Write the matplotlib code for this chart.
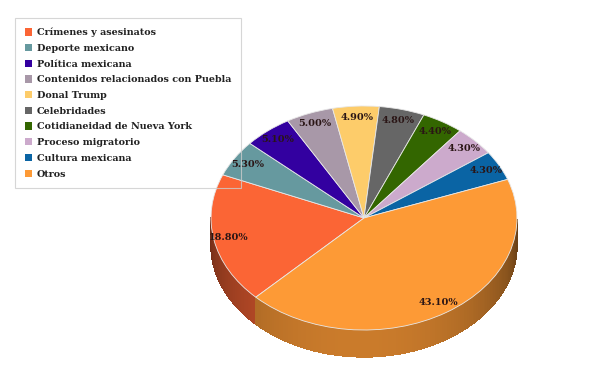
import numpy as np
import matplotlib.pyplot as plt
import matplotlib.colors as mcolors
from matplotlib.collections import PolyCollection

categories = ['Crímenes y asesinatos', 'Deporte mexicano', 'Política mexicana',
              'Contenidos relacionados con Puebla', 'Donal Trump', 'Celebridades',
              'Cotidianeidad de Nueva York', 'Proceso migratorio', 'Cultura mexicana', 'Otros']
values = [18.8, 5.3, 5.1, 5.0, 4.9, 4.8, 4.4, 4.3, 4.3, 43.1]
colors = ['#fb6535', '#66999f', '#3300a0', '#a898a8', '#fdcc6a', '#666666',
          '#336600', '#ccaacc', '#0a64a4', '#fd9a36']

plt.rcParams['font.family'] = 'DejaVu Serif'

fig = plt.figure(figsize=(6, 3.77), dpi=100)
ax = fig.add_axes([0, 0, 1, 1])

start = 225
depth = 0.24

# side wall of the 3d pie (only the front half is visible)
angles = np.cumsum([0] + values) / sum(values) * 360
polys, fcs = [], []
for i, c in enumerate(colors):
    t1 = start - angles[i + 1]
    t2 = start - angles[i]
    ts = np.mod(np.linspace(t1, t2, 150), 360)
    rgb = np.array(mcolors.to_rgb(c))
    for a, b in zip(ts[:-1], ts[1:]):
        if a < 180 or b < 180 or b < a:
            continue
        m = np.radians((a + b) / 2)
        f = 0.42 + 0.38 * max(0, np.cos(m - np.radians(268)))
        ra, rb = np.radians(a), np.radians(b)
        polys.append([(np.cos(ra), np.sin(ra)), (np.cos(rb), np.sin(rb)),
                      (np.cos(rb), np.sin(rb) - depth), (np.cos(ra), np.sin(ra) - depth)])
        fcs.append(rgb * f)
ax.add_collection(PolyCollection(polys, facecolors=fcs, edgecolors=fcs, linewidths=0.4,
                                 antialiased=False, zorder=0.5))

wedges, texts, autotexts = ax.pie(values, colors=colors, startangle=start,
                                  counterclock=False, autopct='%.2f%%', pctdistance=0.9,
                                  wedgeprops=dict(edgecolor='#e8e8e8', linewidth=0.6),
                                  textprops=dict(fontsize=7, color='#2a1515', weight='bold'))

ax.set_aspect('auto')
ax.set_xlim(-364 / 153, (600 - 364) / 153)
ax.set_ylim(-159 / 112, (377 - 159) / 112)
ax.axis('off')

leg = fig.legend(wedges, categories, loc='upper left', bbox_to_anchor=(0.025, 0.952),
                 prop=dict(size=6.9, weight='bold'), frameon=True, fancybox=False,
                 edgecolor='#cccccc', borderaxespad=0,
                 handlelength=0.8, handleheight=0.8, handletextpad=0.5,
                 labelspacing=0.7, borderpad=1.0)
leg.get_frame().set_facecolor('none')
leg.get_frame().set_linewidth(0.8)
for t in leg.get_texts():
    t.set_color('#222222')
for h in leg.legend_handles:
    h.set_edgecolor('none')

fig.savefig('out.png', dpi=100)
